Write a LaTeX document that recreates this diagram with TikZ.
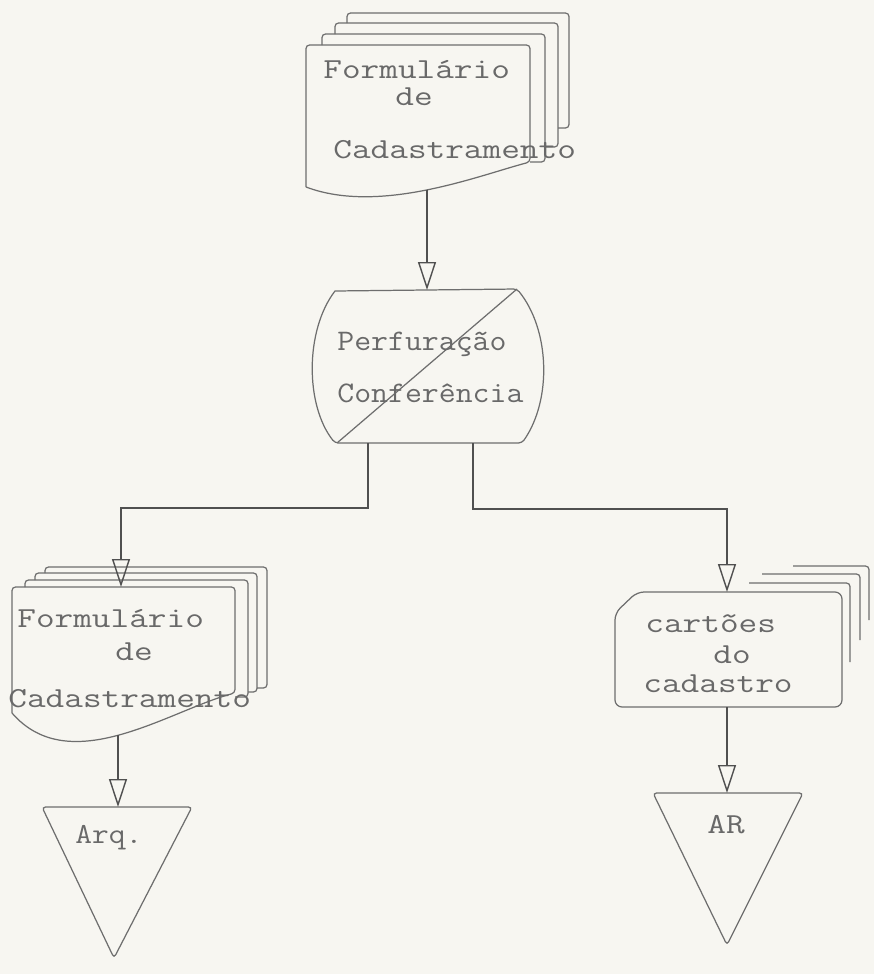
\documentclass[tikz,border=0pt]{standalone}
\usepackage{xcolor}
\usepackage{graphicx}
\usepackage{tikz}
\usetikzlibrary{arrows.meta}
\definecolor{paper}{RGB}{247,246,241}
\definecolor{ink}{RGB}{80,80,80}
\definecolor{penline}{RGB}{110,110,110}
\definecolor{typeink}{RGB}{105,105,105}
% wide typewriter letters
\newcommand{\typewide}[2][1.25]{\scalebox{#1}[1]{#2}}

\begin{document}
\begin{tikzpicture}[x=0.02cm, y=-0.02cm,
    every node/.style={font=\ttfamily\fontsize{16.5}{18}\selectfont, text=typeink, inner sep=0pt},
    docline/.style={draw=penline, line width=0.7pt, rounded corners=2pt},
    flowarrow/.style={draw=ink, line width=0.8pt, -{Triangle[open, length=5.6mm, width=3.6mm]}},
    typeline/.style={anchor=base west},
    smalltype/.style={anchor=base west, font=\ttfamily\fontsize{17}{19}\selectfont}]
    \fill[paper] (0,0) rectangle (874,974);
    \useasboundingbox (0,0) rectangle (874,974);

    % Formulario de Cadastramento (top), with copies behind
    \draw[docline] (347,23) -- (347,13) -- (569,13) -- (569,128) -- (558,128);
    \draw[docline] (335,34) -- (335,23) -- (558,23) -- (558,147) -- (545,147);
    \draw[docline] (322,45) -- (322,34) -- (545,34) -- (545,162) -- (530,162);
    \draw[docline] (306,187) -- (306,45) -- (530,45) -- (530,162) .. controls (480,175) and (380,215) .. (306,187);
    \node[typeline] (formA1) at (323,78) {\typewide{Formulário}};
    \node[typeline] (formA2) at (395,105) {\typewide{de}};
    \node[typeline] (formA3) at (333,158) {\typewide{Cadastramento}};
    \coordinate (formA-s) at (427,190);

    % Perfuracao / Conferencia
    \draw[docline] (335,291) -- (517,289) .. controls (550,330) and (552,400) .. (522,443) -- (335,443) .. controls (305,405) and (305,330) .. (335,291);
    \draw[docline] (337,443) -- (517,289);
    \node[smalltype] (perf1) at (337,350) {\typewide[1.1]{Perfuração}};
    \node[smalltype] (perf2) at (337,402) {\typewide[1.1]{Conferência}};
    \coordinate (perf-n) at (427,290);
    \coordinate (perf-sw) at (368,443);
    \coordinate (perf-se) at (473,443);

    % Formulario de Cadastramento (left), with copies behind
    \draw[docline] (45,573) -- (45,567) -- (267,567) -- (267,688) -- (257,688);
    \draw[docline] (35,580) -- (35,573) -- (257,573) -- (257,692) -- (248,692);
    \draw[docline] (25,587) -- (25,580) -- (248,580) -- (248,697) -- (235,697);
    \draw[docline] (12,713) -- (12,587) -- (235,587) -- (235,693) .. controls (170,710) and (70,780) .. (12,713);
    \node[typeline] (formB1) at (17,627) {\typewide{Formulário}};
    \node[typeline] (formB2) at (115,660) {\typewide{de}};
    \node[typeline] (formB3) at (8,707) {\typewide{Cadastramento}};
    \coordinate (formB-n) at (121,587);
    \coordinate (formB-s) at (118,735);

    % cartoes do cadastro (right), with cards behind
    \draw[docline] (793,566) -- (869,566) -- (869,620);
    \draw[docline] (762,574) -- (860,574) -- (860,640);
    \draw[docline] (749,583) -- (850,583) -- (850,662);
    \draw[docline, rounded corners=4pt] (615,613) -- (637,592) -- (842,592) -- (842,707) -- (615,707) -- cycle;
    \node[typeline] (card1) at (645,632) {\typewide{cartões}};
    \node[typeline] (card2) at (713,663) {\typewide{do}};
    \node[typeline] (card3) at (643,692) {\typewide{cadastro}};
    \coordinate (card-n) at (727,592);
    \coordinate (card-s) at (727,707);

    % Arquivos
    \draw[docline] (42,807) -- (192,807) -- (114,958) -- cycle;
    \node[typeline] (arq) at (75,843) {\typewide[1.12]{Arq.}};
    \coordinate (arq-n) at (118,807);
    \draw[docline] (653,793) -- (803,793) -- (727,945) -- cycle;
    \node[typeline] (ar) at (707,833) {\typewide{AR}};
    \coordinate (ar-n) at (727,793);

    % connectors
    \draw[flowarrow] (formA-s) -- (perf-n);
    \draw[flowarrow] (perf-sw) -- ++(0,65) -| (formB-n);
    \draw[flowarrow] (perf-se) -- ++(0,66) -| (card-n);
    \draw[flowarrow] (formB-s) -- (arq-n);
    \draw[flowarrow] (card-s) -- (ar-n);
\end{tikzpicture}
\end{document}
